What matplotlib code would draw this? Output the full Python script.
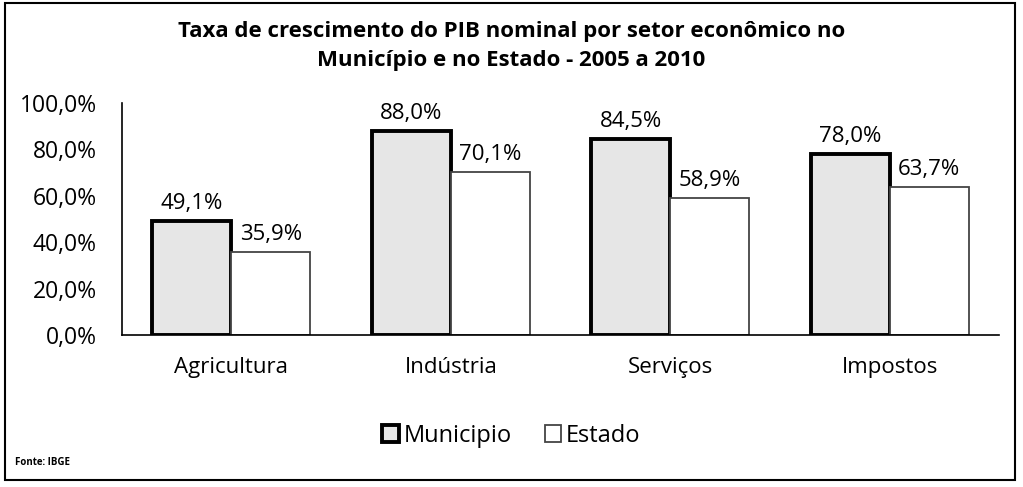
import matplotlib
matplotlib.use("Agg")
import matplotlib.pyplot as plt
import numpy as np
from matplotlib.patches import Rectangle

categories = ["Agricultura", "Indústria", "Serviços", "Impostos"]
municipio = [49.1, 88.0, 84.5, 78.0]
estado = [35.9, 70.1, 58.9, 63.7]
yticks = [0, 20, 40, 60, 80, 100]

plt.rcParams['font.family'] = ['Open Sans', 'DejaVu Sans']

fig = plt.figure(figsize=(10.23, 4.87), dpi=100)
ax = fig.add_axes([0.119, 0.312, 0.858, 0.477])

x = np.arange(len(categories))
w = 0.36
b1 = ax.bar(x - w/2, municipio, w, color='#e6e6e6', edgecolor='black', linewidth=2.8, label='Municipio')
b2 = ax.bar(x + w/2, estado, w, color='white', edgecolor='#444444', linewidth=1.3, label='Estado')

def fmt(v):
    return f"{v:.1f}%".replace('.', ',')

for xi, v in zip(x - w/2, municipio):
    ax.text(xi, v + 3, fmt(v), ha='center', va='bottom', fontsize=16)
for xi, v in zip(x + w/2, estado):
    ax.text(xi, v + 3, fmt(v), ha='center', va='bottom', fontsize=16)

ax.set_xlim(-0.5, len(categories) - 0.5)
ax.set_ylim(0, 100)
ax.set_yticks(yticks)
ax.set_yticklabels([f"{t:.1f}%".replace('.', ',') for t in yticks], fontsize=16.5)
ax.set_xticks(x)
ax.set_xticklabels(categories, fontsize=16)
ax.tick_params(axis='both', length=0)
ax.tick_params(axis='x', pad=16)
ax.tick_params(axis='y', pad=18)
for s in ['top', 'right']:
    ax.spines[s].set_visible(False)
ax.spines['left'].set_linewidth(1.2)
ax.spines['bottom'].set_linewidth(1.2)

fig.text(0.5, 0.905, "Taxa de crescimento do PIB nominal por setor econômico no\nMunicípio e no Estado - 2005 a 2010",
         ha='center', va='center', fontsize=16, fontweight='bold', linespacing=1.5)

leg = fig.legend(handles=[b1, b2], labels=['Municipio', 'Estado'], loc='center', bbox_to_anchor=(0.5, 0.105),
                 ncol=2, frameon=False, fontsize=17, handlelength=0.7, handleheight=0.7,
                 handletextpad=0.2, columnspacing=1.4)

fig.text(0.015, 0.05, "Fonte: IBGE", fontsize=7, fontweight='bold', ha='left', va='center')

fig.patches.append(Rectangle((0.005, 0.015), 0.987, 0.978, transform=fig.transFigure,
                             fill=False, edgecolor='black', linewidth=1.5))

fig.savefig("out.png", dpi=100)
